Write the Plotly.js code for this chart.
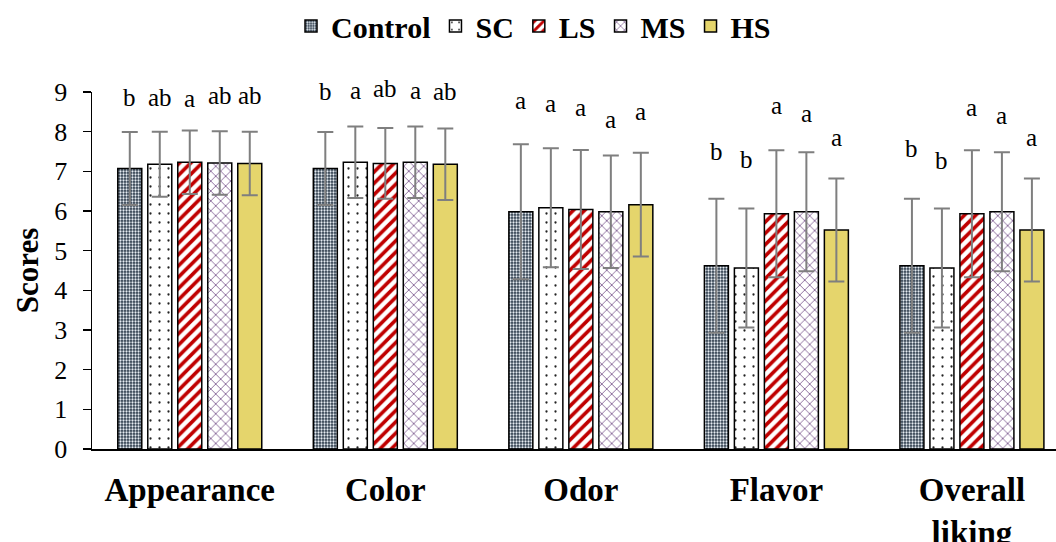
<!DOCTYPE html>
<html>
<head>
<meta charset="utf-8">
<script src="https://cdn.plot.ly/plotly-3.0.1.min.js"></script>
<style>
html,body{margin:0;padding:0;background:#fff;}
#chart{width:1056px;height:542px;}
</style>
</head>
<body>
<div id="chart"></div>
<script>
// ---- data ----
const categories = ['Appearance', 'Color', 'Odor', 'Flavor', 'Overall<br>liking'];
const seriesNames = ['Control', 'SC', 'LS', 'MS', 'HS'];

const controlMean = [7.07, 7.07, 5.98, 4.62, 4.62];
const controlSD   = [0.92, 0.92, 1.70, 1.69, 1.69];
const scMean      = [7.18, 7.23, 6.08, 4.56, 4.56];
const scSD        = [0.82, 0.90, 1.50, 1.50, 1.50];
const lsMean      = [7.23, 7.20, 6.04, 5.93, 5.93];
const lsSD        = [0.80, 0.89, 1.50, 1.60, 1.60];
const msMean      = [7.21, 7.23, 5.98, 5.98, 5.98];
const msSD        = [0.80, 0.90, 1.42, 1.50, 1.50];
const hsMean      = [7.20, 7.18, 6.16, 5.52, 5.52];
const hsSD        = [0.80, 0.90, 1.31, 1.30, 1.30];

// significance letters and the score level each letter sits at
const controlLetters = ['b', 'b', 'a', 'b', 'b'];
const scLetters      = ['ab', 'a', 'a', 'b', 'b'];
const lsLetters      = ['a', 'ab', 'a', 'a', 'a'];
const msLetters      = ['ab', 'a', 'a', 'a', 'a'];
const hsLetters      = ['ab', 'ab', 'a', 'a', 'a'];
const controlLetterY = [8.86, 9.02, 8.78, 7.50, 7.58];
const scLetterY      = [8.87, 9.05, 8.70, 7.30, 7.27];
const lsLetterY      = [8.84, 9.08, 8.61, 8.65, 8.60];
const msLetterY      = [8.90, 9.05, 8.30, 8.47, 8.42];
const hsLetterY      = [8.90, 9.02, 8.51, 7.86, 7.86];

const yTicks = [0, 1, 2, 3, 4, 5, 6, 7, 8, 9];

// ---- styling ----
const FONT = 'Liberation Serif';
const BARGAP = 0.233, BARGROUPGAP = 0.2;
const Y_MAX = 9;

const means = [controlMean, scMean, lsMean, msMean, hsMean];
const sds = [controlSD, scSD, lsSD, msSD, hsSD];
const letters = [controlLetters, scLetters, lsLetters, msLetters, hsLetters];
const letterYs = [controlLetterY, scLetterY, lsLetterY, msLetterY, hsLetterY];

const styles = [
  {color: '#2b3a4a', pattern: {shape: '.', fgcolor: '#e6ecf2', bgcolor: '#2b3a4a', size: 3, solidity: 0.45, fillmode: 'replace'}},
  {color: '#ffffff', pattern: {shape: '.', fgcolor: '#222222', bgcolor: '#ffffff', size: 9, solidity: 0.05, fillmode: 'replace'}},
  {color: '#ffffff', pattern: {shape: '/', fgcolor: '#c00000', bgcolor: '#ffffff', size: 8, solidity: 0.45, fillmode: 'replace'}},
  {color: '#ffffff', pattern: {shape: 'x', fgcolor: '#8a6a9a', bgcolor: '#ffffff', size: 7, solidity: 0.25, fillmode: 'replace'}},
  {color: '#e5d56c', pattern: {shape: ''}}
];

const traces = seriesNames.map((name, i) => ({
  type: 'bar',
  name: name,
  x: categories,
  y: means[i],
  marker: {color: styles[i].color, pattern: styles[i].pattern, line: {color: '#000000', width: 1.5}},
  error_y: {type: 'data', array: sds[i], symmetric: true, visible: true, color: '#7f7f7f', thickness: 2, width: 8},
  hoverinfo: 'skip'
}));

// letter annotations positioned at the centre of each bar slot
const nSeries = seriesNames.length;
const slot = (1 - BARGAP) / nSeries;
const annotations = [];
for (let i = 0; i < nSeries; i++) {
  for (let c = 0; c < categories.length; c++) {
    annotations.push({
      xref: 'x', yref: 'paper',
      x: c + (i - (nSeries - 1) / 2) * slot,
      y: letterYs[i][c] / Y_MAX,
      text: letters[i][c],
      showarrow: false,
      xanchor: 'center', yanchor: 'middle',
      font: {family: FONT, size: 25, color: '#000000'}
    });
  }
}

const layout = {
  width: 1056, height: 542,
  margin: {l: 92, r: 0, t: 89, b: 93, pad: 0},
  paper_bgcolor: '#ffffff', plot_bgcolor: '#ffffff',
  barmode: 'group', bargap: BARGAP, bargroupgap: BARGROUPGAP,
  showlegend: true,
  legend: {
    orientation: 'h', x: 0.458, xanchor: 'center', y: 1.186, yanchor: 'middle',
    font: {family: FONT, size: 30, color: '#000000', weight: 'bold'},
    traceorder: 'normal'
  },
  xaxis: {
    type: 'category',
    range: [-0.5, 4.43],
    showline: true, linecolor: '#000000', linewidth: 1.5,
    ticks: '', showgrid: false, zeroline: false,
    tickfont: {family: FONT, size: 33, color: '#000000', weight: 'bold'},
    ticklabelstandoff: 11,
    automargin: false, fixedrange: true
  },
  yaxis: {
    range: [0, Y_MAX], tickvals: yTicks, ticktext: yTicks.map(String),
    showline: true, linecolor: '#000000', linewidth: 1.5,
    ticks: 'outside', ticklen: 8, tickwidth: 1.5, tickcolor: '#000000',
    showgrid: false, zeroline: false,
    tickfont: {family: FONT, size: 26, color: '#000000'},
    ticklabelstandoff: 10,
    title: {text: 'Scores', font: {family: FONT, size: 31, color: '#000000', weight: 'bold'}, standoff: 6},
    automargin: false, fixedrange: true
  },
  annotations: annotations
};

Plotly.newPlot('chart', traces, layout, {displayModeBar: false, staticPlot: true});
</script>
</body>
</html>
